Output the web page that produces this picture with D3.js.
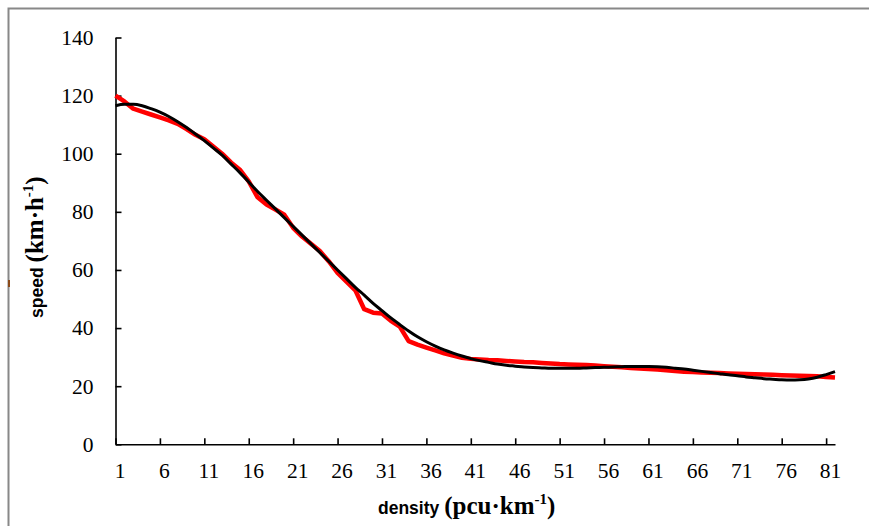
<!DOCTYPE html>
<html>
<head>
<meta charset="utf-8">
<script src="https://cdn.jsdelivr.net/npm/d3@7"></script>
<style>
	body { margin: 0; background: #fff; }
	svg { display: block; }
</style>
</head>
<body>
<script>
const densities = [1,2,3,4,5,6,7,8,9,10,11,12,13,14,15,16,17,18,19,20,
	21,22,23,24,25,26,27,28,29,30,31,32,33,34,35,36,37,38,39,40,
	41,42,43,44,45,46,47,48,49,50,51,52,53,54,55,56,57,58,59,60,
	61,62,63,64,65,66,67,68,69,70,71,72,73,74,75,76,77,78,79,80,81,82];

// observed speed (red)
const observedSpeed = [120,118,115.5,114.5,113.5,112.5,111.5,110.3,108.5,106.5,
	105,102.5,100,97,94.5,90.5,85,82.5,80.8,79,
	74.5,71.5,69,66.5,63,59,56,53,46.5,45.3,
	45,42.5,40.5,35.5,34.3,33.3,32.3,31.3,30.5,29.8,
	29.4,29.2,29,28.9,28.7,28.5,28.3,28.2,28,27.8,
	27.6,27.5,27.4,27.3,27.1,26.9,26.7,26.5,26.3,26.1,
	25.9,25.7,25.5,25.2,25,24.9,24.7,24.6,24.5,24.4,
	24.3,24.2,24.1,24,23.9,23.8,23.7,23.6,23.5,23.4,23.2,23];

// fitted speed (black)
const fittedSpeed = [116.5,117,117,116.5,115.5,114.3,112.8,111,109,106.8,
	104.5,102,99.5,96.5,93.5,90.3,87,84,81,78,
	75,72,69,66,63,60,57,54,51.3,48.5,
	46,43.5,41.2,39,37,35.3,33.8,32.5,31.4,30.4,
	29.5,28.8,28.2,27.6,27.2,26.9,26.6,26.4,26.3,26.2,
	26.2,26.2,26.2,26.3,26.4,26.5,26.6,26.7,26.8,26.8,
	26.8,26.7,26.5,26.2,25.9,25.5,25.1,24.7,24.3,23.9,
	23.6,23.2,22.9,22.6,22.4,22.2,22.1,22.2,22.5,23.1,24,25];

const xTickLabels = [1,6,11,16,21,26,31,36,41,46,51,56,61,66,71,76,81];
const yTickLabels = [0,20,40,60,80,100,120,140];

const serifFont = "'Liberation Serif', 'Times New Roman', Times, 'DejaVu Serif', serif";
const sansFont = "'Liberation Sans', Arial, sans-serif";

function addTitle(svg, transform, sansPart, serifPart) {
	const serifSize = 25;
	const title = svg.append("text")
		.attr("transform", transform)
		.attr("fill", "#000")
		.attr("font-weight", "bold");
	title.append("tspan")
		.style("font-family", sansFont)
		.style("font-size", "17.5px")
		.text(sansPart);
	title.append("tspan")
		.style("font-family", serifFont)
		.style("font-size", serifSize + "px")
		.attr("dx", 5)
		.text(serifPart);
	title.append("tspan")
		.style("font-family", serifFont)
		.style("font-size", (serifSize * 0.6) + "px")
		.attr("dy", -serifSize * 0.4)
		.text("-1");
	title.append("tspan")
		.style("font-family", serifFont)
		.style("font-size", serifSize + "px")
		.attr("dy", serifSize * 0.4)
		.text(")");
}

function constructChart() {
	const width = 869;
	const height = 526;

	const scaleX = d3.scaleLinear().domain([1, 82]).range([115.5, 835]);
	const scaleY = d3.scaleLinear().domain([0, 140]).range([444.3, 37.5]);

	const svg = d3.select("body")
		.append("svg")
		.attr("width", width)
		.attr("height", height);

	// frame
	svg.append("rect")
		.attr("x", 8.5)
		.attr("y", 8.5)
		.attr("width", 900)
		.attr("height", 600)
		.attr("fill", "none")
		.attr("stroke", "#888")
		.attr("stroke-width", 2);
	svg.append("line")
		.attr("x1", 9).attr("x2", 9)
		.attr("y1", 280).attr("y2", 287)
		.attr("stroke", "#8b4a1a")
		.attr("stroke-width", 2);

	const axisX = d3.axisBottom(scaleX)
		.tickValues(xTickLabels)
		.tickFormat(d3.format("d"))
		.tickSizeInner(-6)
		.tickSizeOuter(0)
		.tickPadding(18);

	const axisY = d3.axisLeft(scaleY)
		.tickValues(yTickLabels)
		.tickSizeInner(-6)
		.tickSizeOuter(0)
		.tickPadding(22);

	const gx = svg.append("g")
		.attr("transform", `translate(0,${scaleY(0)})`)
		.call(axisX);
	gx.selectAll(".tick text").attr("x", 4);

	const gy = svg.append("g")
		.attr("transform", `translate(${scaleX(1)},0)`)
		.call(axisY);

	svg.selectAll(".tick text")
		.style("font-family", serifFont)
		.style("font-size", "21.5px")
		.attr("fill", "#000");

	svg.selectAll(".domain, .tick line")
		.attr("stroke", "#000")
		.attr("stroke-width", 1.6);

	const rows = densities.map((d, i) => ({
		density: d,
		observed: observedSpeed[i],
		fitted: fittedSpeed[i]
	}));

	svg.append("path")
		.datum(rows)
		.attr("fill", "none")
		.attr("stroke", "#ff0000")
		.attr("stroke-width", 4.5)
		.attr("stroke-linejoin", "round")
		.attr("d", d3.line()
			.x(d => scaleX(d.density))
			.y(d => scaleY(d.observed)));

	svg.append("path")
		.datum(rows)
		.attr("fill", "none")
		.attr("stroke", "#000")
		.attr("stroke-width", 3)
		.attr("stroke-linejoin", "round")
		.attr("d", d3.line()
			.curve(d3.curveMonotoneX)
			.x(d => scaleX(d.density))
			.y(d => scaleY(d.fitted)));

	// axis titles
	addTitle(svg, "translate(378,514)", "density", "(pcu·km");
	addTitle(svg, "translate(43,318) rotate(-90)", "speed", "(km·h");
}

constructChart();
</script>
</body>
</html>
